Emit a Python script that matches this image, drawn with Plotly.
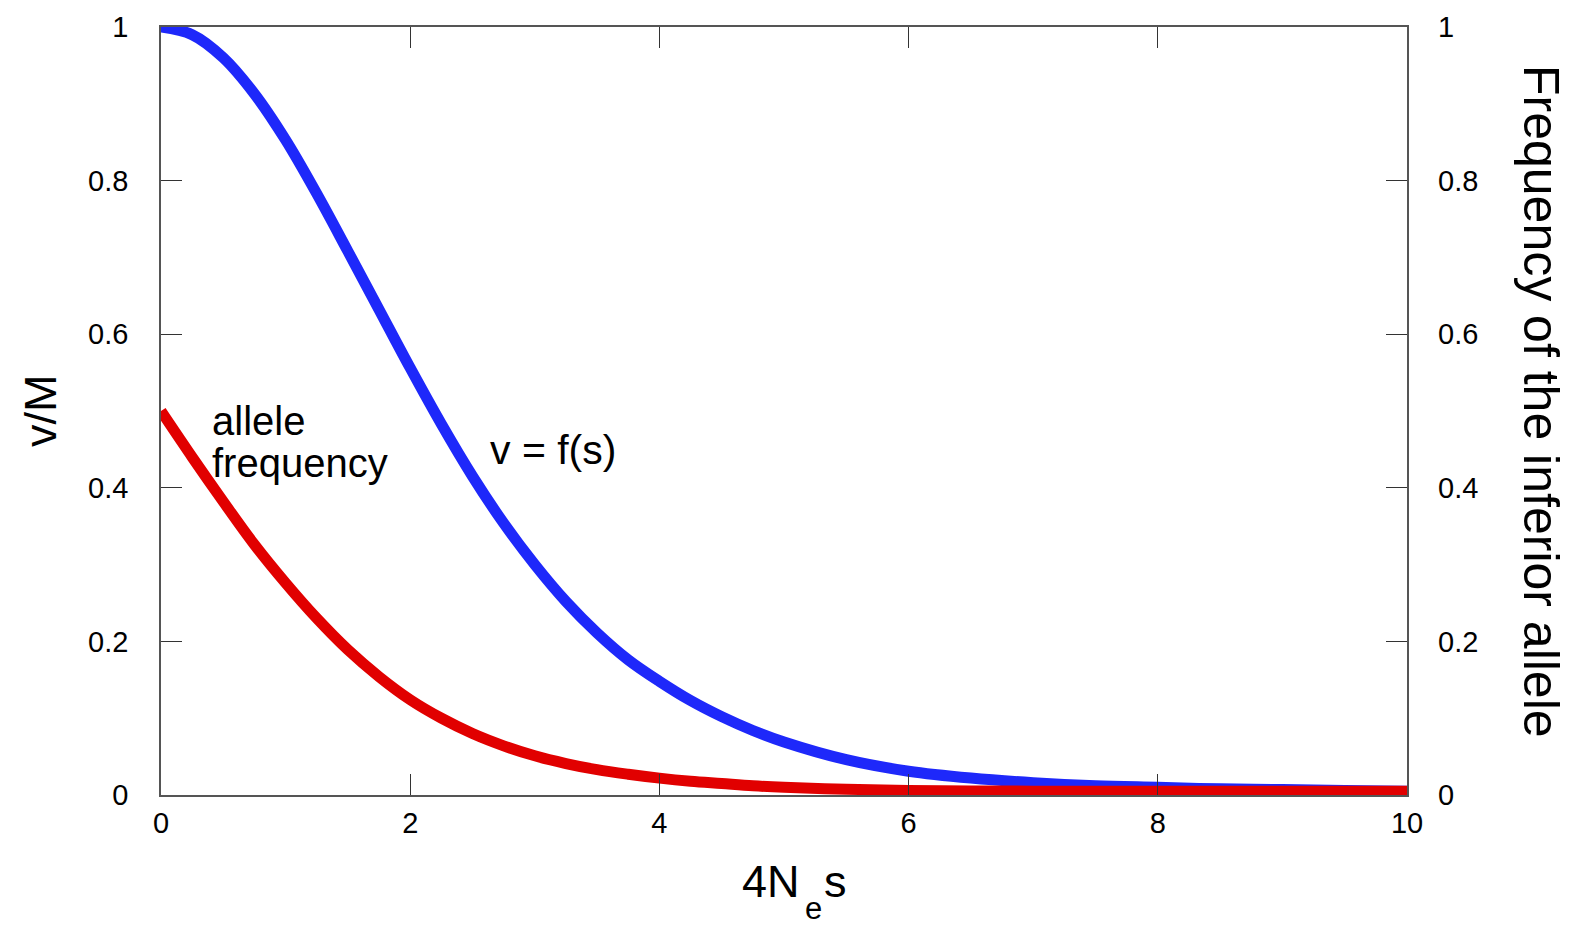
import plotly.graph_objects as go

# x axis: 4N_e s
x_vals = [0, 0.25, 0.5, 0.75, 1, 1.25, 1.5, 1.75, 2, 2.25, 2.5, 2.75, 3, 3.25, 3.5, 3.75,
          4, 4.25, 4.5, 4.75, 5, 5.5, 6, 6.5, 7, 7.5, 8, 8.5, 9, 9.5, 10]

# v/M  (blue, v = f(s))
v_over_m = [1.0, 0.99, 0.96, 0.913, 0.853, 0.783, 0.708, 0.632, 0.556, 0.483, 0.415, 0.354,
            0.30, 0.252, 0.211, 0.176, 0.148, 0.123, 0.102, 0.084, 0.069, 0.046, 0.031,
            0.022, 0.016, 0.012, 0.010, 0.008, 0.007, 0.006, 0.005]

# frequency of the inferior allele (red)
allele_freq = [0.5, 0.44, 0.382, 0.326, 0.276, 0.230, 0.189, 0.154, 0.124, 0.100, 0.080, 0.064,
               0.051, 0.041, 0.033, 0.027, 0.022, 0.018, 0.015, 0.012, 0.010, 0.0075, 0.006,
               0.0053, 0.005, 0.005, 0.005, 0.005, 0.005, 0.005, 0.005]

x_ticks = [0, 2, 4, 6, 8, 10]
y_ticks = [0, 0.2, 0.4, 0.6, 0.8, 1]
y_tick_text = ["0", "0.2", "0.4", "0.6", "0.8", "1"]

FONT = "Liberation Sans, Arial, Helvetica, sans-serif"
TICK_SIZE = 29

fig = go.Figure()
fig.add_trace(go.Scatter(x=x_vals, y=v_over_m, mode="lines",
                         line=dict(color="rgb(30,40,250)", width=11, shape="spline", smoothing=1.0),
                         yaxis="y", showlegend=False, hoverinfo="skip"))
fig.add_trace(go.Scatter(x=x_vals, y=allele_freq, mode="lines",
                         line=dict(color="rgb(225,0,0)", width=11, shape="spline", smoothing=1.0),
                         yaxis="y2", showlegend=False, hoverinfo="skip"))

axis_common = dict(showgrid=False, zeroline=False, ticks="inside", ticklen=21, tickwidth=1.2,
                   tickcolor="#333", linecolor="#555", linewidth=1.5,
                   tickfont=dict(family=FONT, size=TICK_SIZE, color="black"))


def px_x(p):
    return (p - 161) / 1246


def px_y(p):
    return (795 - p) / 768


black = "black"
fig.update_layout(
    width=1586, height=929,
    margin=dict(l=161, r=179, t=27, b=134),
    paper_bgcolor="white", plot_bgcolor="white",
    xaxis=dict(range=[0, 10], tickvals=x_ticks, showline=True, mirror="ticks",
               ticklabelstandoff=1, **axis_common),
    yaxis=dict(range=[0, 1], tickvals=y_ticks, ticktext=y_tick_text, showline=True,
               mirror="ticks", ticklabelstandoff=25, **axis_common),
    yaxis2=dict(range=[0, 1], tickvals=y_ticks, ticktext=y_tick_text, overlaying="y",
                side="right", showline=False, showgrid=False, zeroline=False, ticks="",
                ticklabelstandoff=30, tickfont=dict(family=FONT, size=TICK_SIZE, color=black)),
    annotations=[
        dict(text="v/M", x=px_x(40), y=0.5, xref="paper", yref="paper", textangle=-90,
             showarrow=False, font=dict(family=FONT, size=45, color=black),
             xanchor="center", yanchor="middle"),
        dict(text="Frequency of the inferior allele", x=px_x(1541), y=px_y(401), xref="paper",
             yref="paper", textangle=90, showarrow=False,
             font=dict(family=FONT, size=50, color=black), xanchor="center", yanchor="middle"),
        dict(text="4N", x=px_x(802), y=px_y(881), xref="paper", yref="paper",
             showarrow=False, font=dict(family=FONT, size=45, color=black),
             xanchor="right", yanchor="middle"),
        dict(text="e", x=px_x(813), y=px_y(928), xref="paper", yref="paper",
             showarrow=False, font=dict(family=FONT, size=31, color=black),
             xanchor="center", yanchor="bottom"),
        dict(text="s", x=px_x(822), y=px_y(881), xref="paper", yref="paper",
             showarrow=False, font=dict(family=FONT, size=45, color=black),
             xanchor="left", yanchor="middle"),
        dict(text="allele", x=px_x(210), y=px_y(421), xref="paper", yref="paper",
             showarrow=False, font=dict(family=FONT, size=40, color=black),
             xanchor="left", yanchor="middle"),
        dict(text="frequency", x=px_x(210), y=px_y(463), xref="paper", yref="paper",
             showarrow=False, font=dict(family=FONT, size=40, color=black),
             xanchor="left", yanchor="middle"),
        dict(text="v = f(s)", x=px_x(488), y=px_y(450), xref="paper", yref="paper",
             showarrow=False, font=dict(family=FONT, size=41, color=black),
             xanchor="left", yanchor="middle"),
    ],
)

fig.write_html("out.html", config={"displayModeBar": False},
               post_script="document.body.style.margin='0';document.body.style.overflow='hidden';")
